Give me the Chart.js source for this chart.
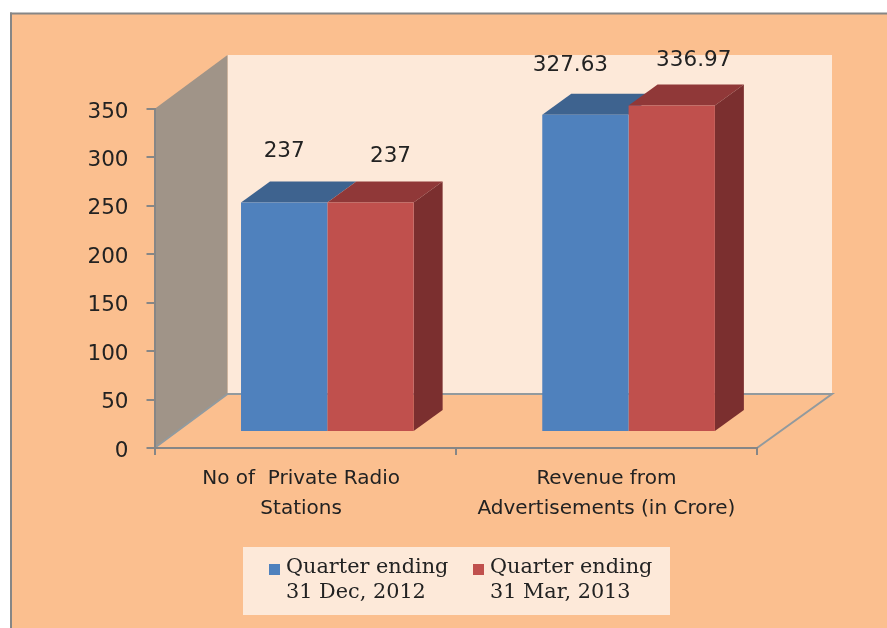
<!DOCTYPE html>
<html><head><meta charset="utf-8">
<style>html,body{margin:0;padding:0;background:#fff}#w{width:887px;height:628px;position:relative}</style>
<script src="https://cdn.jsdelivr.net/npm/chart.js@4"></script></head>
<body><div id="w"><canvas id="c" width="887" height="628"></canvas></div>
<script>
const categories = [["No of  Private Radio","Stations"],["Revenue from","Advertisements (in Crore)"]];
const seriesDec2012 = [237, 327.63];
const seriesMar2013 = [237, 336.97];
const seriesNames = [["Quarter ending","31 Dec, 2012"],["Quarter ending","31 Mar, 2013"]];
const yTicks = [0,50,100,150,200,250,300,350];

const sansFont = "'DejaVu Sans'";
const ink = "#222";
const axisGrey = "#868686";

const scene = {
  id:"scene",
  beforeDraw(chart){
    const {ctx,chartArea:a}=chart;
    const W=chart.width,H=chart.height;
    ctx.save();
    ctx.fillStyle="#fff";ctx.fillRect(0,0,W,H);
    ctx.fillStyle="#fbbf8f";ctx.fillRect(10,13,W-10,H-13);
    ctx.fillStyle="#868686";ctx.fillRect(10,12.5,W-10,2);ctx.fillRect(10,12.5,2,H-12);
    const dx=73,dy=-54;
    ctx.fillStyle="#fde9d9";
    ctx.fillRect(a.left+dx,a.top+dy,a.right-a.left+2,a.bottom-a.top);
    ctx.fillStyle="#a09488";
    ctx.beginPath();ctx.moveTo(a.left,a.top);ctx.lineTo(a.left+dx,a.top+dy);ctx.lineTo(a.left+dx,a.bottom+dy);ctx.lineTo(a.left,a.bottom);ctx.closePath();ctx.fill();
    ctx.strokeStyle="#929a9e";ctx.lineWidth=2;
    ctx.beginPath();
    ctx.moveTo(a.left,a.bottom);ctx.lineTo(a.left+dx,a.bottom+dy);ctx.lineTo(a.right+dx+2,a.bottom+dy);ctx.lineTo(a.right,a.bottom);
    ctx.stroke();
    // nudge axis text to sit where the reference has it
    chart.scales.y.getLabelItems(a).forEach(it=>{ if(!it.moved){it.moved=true;it.textOffset+=3;} });
    chart.scales.x.getLabelItems(a).forEach((it,i)=>{ if(!it.moved){it.moved=true;if(i===0)it.options.translation[0]-=4;} });
    // legend panel and entries, from the dataset labels and colours
    ctx.fillStyle="#fde9d9";ctx.fillRect(243,547,427,68);
    ctx.font="20.8px 'DejaVu Serif'";ctx.textBaseline="middle";ctx.textAlign="left";
    const lx=[269,473];
    chart.data.datasets.forEach((d,i)=>{
      ctx.fillStyle=d.backgroundColor;ctx.fillRect(lx[i],564,11,11);
      ctx.fillStyle=ink;
      d.label.forEach((t,k)=>ctx.fillText(t,lx[i]+17,568+k*25));
    });
    ctx.restore();
  },
  beforeDatasetsDraw(chart){
    const {ctx}=chart;
    const sx=22.2,sy=-16,bx=29,by=-21;
    const palette=[["#3e638f","#3e638f"],["#903838","#7b2f2f"]];
    ctx.save();ctx.translate(sx,sy);
    const last=chart.data.datasets.length-1;
    chart.data.datasets.forEach((d,i)=>{
      const meta=chart.getDatasetMeta(i);
      meta.data.forEach(b=>{
        const l=b.x-b.width/2,r=b.x+b.width/2,t=b.y,bot=b.base;
        ctx.fillStyle=palette[i][0];
        ctx.beginPath();ctx.moveTo(l,t);ctx.lineTo(l+bx,t+by);ctx.lineTo(r+bx,t+by);ctx.lineTo(r,t);ctx.closePath();ctx.fill();
        if(i===last){
          ctx.fillStyle=palette[i][1];
          ctx.beginPath();ctx.moveTo(r,t);ctx.lineTo(r+bx,t+by);ctx.lineTo(r+bx,bot+by);ctx.lineTo(r,bot);ctx.closePath();ctx.fill();
        }
      });
    });
    ctx.restore();
    ctx.save();ctx.translate(sx,sy);
  },
  afterDatasetsDraw(chart){
    const {ctx}=chart;
    ctx.restore();
    const off=[[[0,-51],[-15,-49]],[[20,-46],[22,-45]]];
    ctx.save();
    ctx.font="21.5px "+sansFont;ctx.fillStyle=ink;ctx.textAlign="center";ctx.textBaseline="middle";
    chart.data.datasets.forEach((d,i)=>{
      chart.getDatasetMeta(i).data.forEach((b,j)=>{
        ctx.fillText(String(d.data[j]),b.x+22.2+off[i][j][0],b.y-16+off[i][j][1]);
      });
    });
    ctx.restore();
  }
};

new Chart(document.getElementById("c"),{
  type:"bar",
  data:{labels:categories,datasets:[
    {label:seriesNames[0],data:seriesDec2012,backgroundColor:"#4f81bd",clip:false},
    {label:seriesNames[1],data:seriesMar2013,backgroundColor:"#c0504d",clip:false}
  ]},
  plugins:[scene],
  options:{
    responsive:false,animation:false,
    datasets:{bar:{barPercentage:1,categoryPercentage:0.573}},
    layout:{padding:{left:0,top:109,right:130,bottom:0}},
    plugins:{tooltip:{enabled:false},legend:{display:false}},
    scales:{
      x:{
        grid:{drawOnChartArea:false,drawTicks:true,tickLength:7,color:axisGrey,lineWidth:2},
        border:{color:axisGrey,width:2},
        ticks:{color:ink,font:{family:sansFont,size:20,lineHeight:1.5},padding:9,maxRotation:0,autoSkip:false},
        afterFit(s){s.height=180;}
      },
      y:{
        min:0,max:350,
        afterBuildTicks(s){s.ticks=yTicks.map(v=>({value:v}));},
        grid:{drawOnChartArea:false,drawTicks:true,tickLength:8,color:axisGrey,lineWidth:2},
        border:{color:axisGrey,width:2},
        ticks:{color:ink,font:{family:sansFont,size:21.5},padding:18},
        afterFit(s){s.width=154.5;}
      }
    }
  }
});
</script></body></html>
